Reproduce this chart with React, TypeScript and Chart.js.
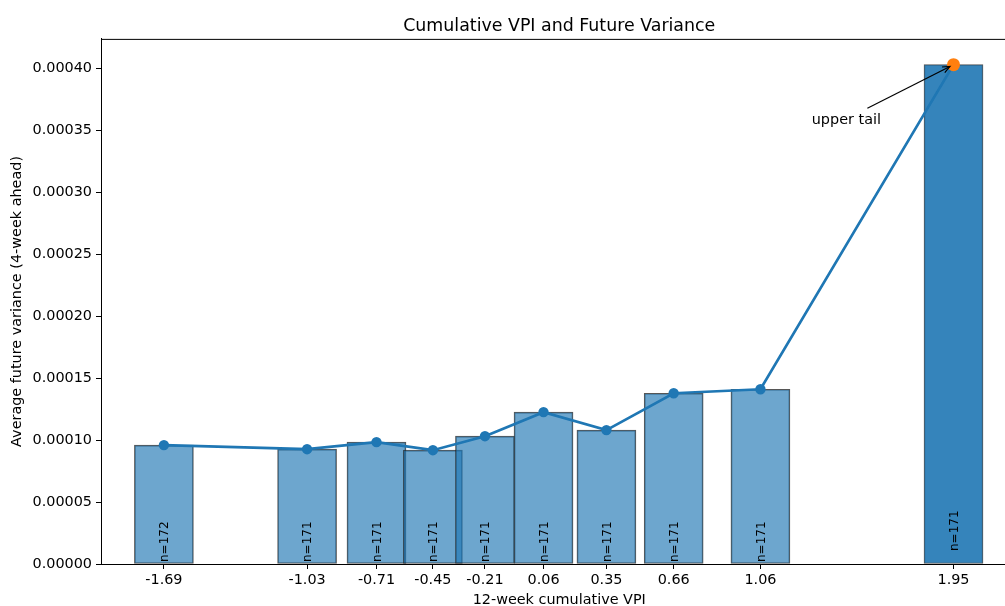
import React, { useEffect, useRef } from "react";
import { Chart, registerables } from "chart.js";

Chart.register(...registerables);

const binCenters = [-1.69, -1.03, -0.71, -0.45, -0.21, 0.06, 0.35, 0.66, 1.06, 1.95];
const tickLabels = ["-1.69", "-1.03", "-0.71", "-0.45", "-0.21", "0.06", "0.35", "0.66", "1.06", "1.95"];
const futureVariance = [0.000096, 0.0000927, 0.0000984, 0.0000919, 0.0001032, 0.0001226, 0.0001081, 0.0001379, 0.0001411, 0.0004032];
const counts = [172, 171, 171, 171, 171, 171, 171, 171, 171, 171];
const yTicks = [0, 0.00005, 0.0001, 0.00015, 0.0002, 0.00025, 0.0003, 0.00035, 0.0004];

const FONT = "'DejaVu Sans', sans-serif";
const FS = 14.4;

const framePlugin = {
  id: "frame",
  afterDatasetsDraw(chart: any) {
    const { ctx, chartArea } = chart;
    ctx.save();
    ctx.strokeStyle = "#000";
    ctx.lineWidth = 1;
    ctx.strokeRect(chartArea.left + 0.5, chartArea.top + 0.5, chartArea.right - chartArea.left, chartArea.bottom - chartArea.top);
    ctx.restore();
  },
};

const labelPlugin = {
  id: "nlabels",
  afterDatasetsDraw(chart: any) {
    const { ctx, scales } = chart;
    const xs = scales.x;
    const ys = scales.y;
    ctx.save();
    ctx.font = `12px ${FONT}`;
    ctx.fillStyle = "#000";
    ctx.textAlign = "left";
    ctx.textBaseline = "middle";
    binCenters.forEach((c, i) => {
      const px = xs.getPixelForValue(c) + 1;
      const py = ys.getPixelForValue(0) - (i === binCenters.length - 1 ? 13 : 2);
      ctx.save();
      ctx.translate(px, py);
      ctx.rotate(-Math.PI / 2);
      ctx.fillText(`n=${counts[i]}`, 0, 0);
      ctx.restore();
    });
    // annotation
    const last = binCenters.length - 1;
    const tx = xs.getPixelForValue(1.456);
    const ty = ys.getPixelForValue(0.000358);
    ctx.font = `${FS}px ${FONT}`;
    ctx.textAlign = "center";
    ctx.fillText("upper tail", tx, ty);
    const sx = xs.getPixelForValue(1.553);
    const sy = ys.getPixelForValue(0.000368);
    const ex0 = xs.getPixelForValue(binCenters[last]);
    const ey0 = ys.getPixelForValue(futureVariance[last]);
    const ang = Math.atan2(ey0 - sy, ex0 - sx);
    const ex = ex0 - Math.cos(ang) * 4;
    const ey = ey0 - Math.sin(ang) * 4;
    ctx.strokeStyle = "#000";
    ctx.lineWidth = 1.2;
    ctx.beginPath();
    ctx.moveTo(sx, sy);
    ctx.lineTo(ex, ey);
    ctx.stroke();
    const ah = 8;
    ctx.beginPath();
    ctx.moveTo(ex - Math.cos(ang - 0.4) * ah, ey - Math.sin(ang - 0.4) * ah);
    ctx.lineTo(ex, ey);
    ctx.lineTo(ex - Math.cos(ang + 0.4) * ah, ey - Math.sin(ang + 0.4) * ah);
    ctx.stroke();
    ctx.restore();
  },
};

export default function App() {
  const ref = useRef<HTMLCanvasElement | null>(null);
  useEffect(() => {
    if (!ref.current) return;
    const pts = binCenters.map((x, i) => ({ x, y: futureVariance[i] }));
    const n = binCenters.length;
    const chart = new Chart(ref.current, {
      type: "bar",
      data: {
        datasets: [
          {
            type: "scatter",
            data: [pts[n - 1]],
            pointRadius: 6.5,
            pointBackgroundColor: "#ff7f0e",
            pointBorderColor: "#ff7f0e",
            pointBorderWidth: 0,
            order: 1,
          } as any,
          {
            type: "line",
            data: pts,
            borderColor: "#1f77b4",
            borderWidth: 2.7,
            pointRadius: 5.2,
            pointBackgroundColor: "#1f77b4",
            pointBorderColor: "#1f77b4",
            pointBorderWidth: 0,
            tension: 0,
            order: 2,
          } as any,
          {
            type: "bar",
            data: pts,
            barThickness: 59,
            grouped: false,
            backgroundColor: binCenters.map((_, i) => (i === n - 1 ? "rgba(31,119,180,0.9)" : "rgba(31,119,180,0.65)")),
            borderColor: "rgba(30,30,30,0.75)",
            borderWidth: 1,
            borderSkipped: false,
            order: 3,
          } as any,
        ],
      },
      options: {
        animation: false,
        responsive: false,
        maintainAspectRatio: false,
        events: [],
        layout: { padding: { left: 0, right: 0, top: 0, bottom: 0 } },
        plugins: {
          legend: { display: false },
          tooltip: { enabled: false },
          title: {
            display: true,
            fullSize: false,
            text: "Cumulative VPI and Future Variance",
            color: "#000",
            font: { family: FONT, size: 17.4, weight: "normal" },
            padding: { top: 16, bottom: 2 },
          },
        },
        scales: {
          x: {
            type: "linear",
            offset: false,
            min: -1.98,
            max: 2.245,
            grid: { offset: false, drawOnChartArea: false, drawTicks: true, tickLength: 5, color: "#000" },
            border: { display: true, color: "#000" },
            afterBuildTicks: (s: any) => {
              s.ticks = binCenters.map((v) => ({ value: v }));
            },
            afterFit: (s: any) => {
              s.height = 45;
            },
            ticks: {
              color: "#000",
              font: { family: FONT, size: FS },
              padding: 3,
              maxRotation: 0,
              autoSkip: false,
              callback: (v: any) => {
                const i = binCenters.indexOf(Number(v));
                return i >= 0 ? tickLabels[i] : "";
              },
            },
            title: {
              display: true,
              text: "12-week cumulative VPI",
              color: "#000",
              font: { family: FONT, size: FS },
              padding: { top: 0, bottom: 0 },
            },
          },
          y: {
            type: "linear",
            min: 0,
            max: 0.000424,
            grid: { drawOnChartArea: false, drawTicks: true, tickLength: 5, color: "#000" },
            border: { display: true, color: "#000" },
            afterBuildTicks: (s: any) => {
              s.ticks = yTicks.map((v) => ({ value: v }));
            },
            afterFit: (s: any) => {
              s.width = 101;
            },
            ticks: {
              color: "#000",
              font: { family: FONT, size: FS },
              padding: 4,
              callback: (v: any) => Number(v).toFixed(5),
            },
            title: {
              display: true,
              text: "Average future variance (4-week ahead)",
              color: "#000",
              font: { family: FONT, size: FS },
              padding: { top: 9, bottom: 0 },
            },
          },
        },
      },
      plugins: [framePlugin, labelPlugin],
    });
    return () => chart.destroy();
  }, []);
  return (
    <div style={{ position: "fixed", left: 0, top: 0, width: 1005, height: 606, overflow: "hidden", background: "#fff" }}>
      <canvas ref={ref} width={1024} height={609} style={{ width: 1024, height: 609, display: "block" }} />
    </div>
  );
}
